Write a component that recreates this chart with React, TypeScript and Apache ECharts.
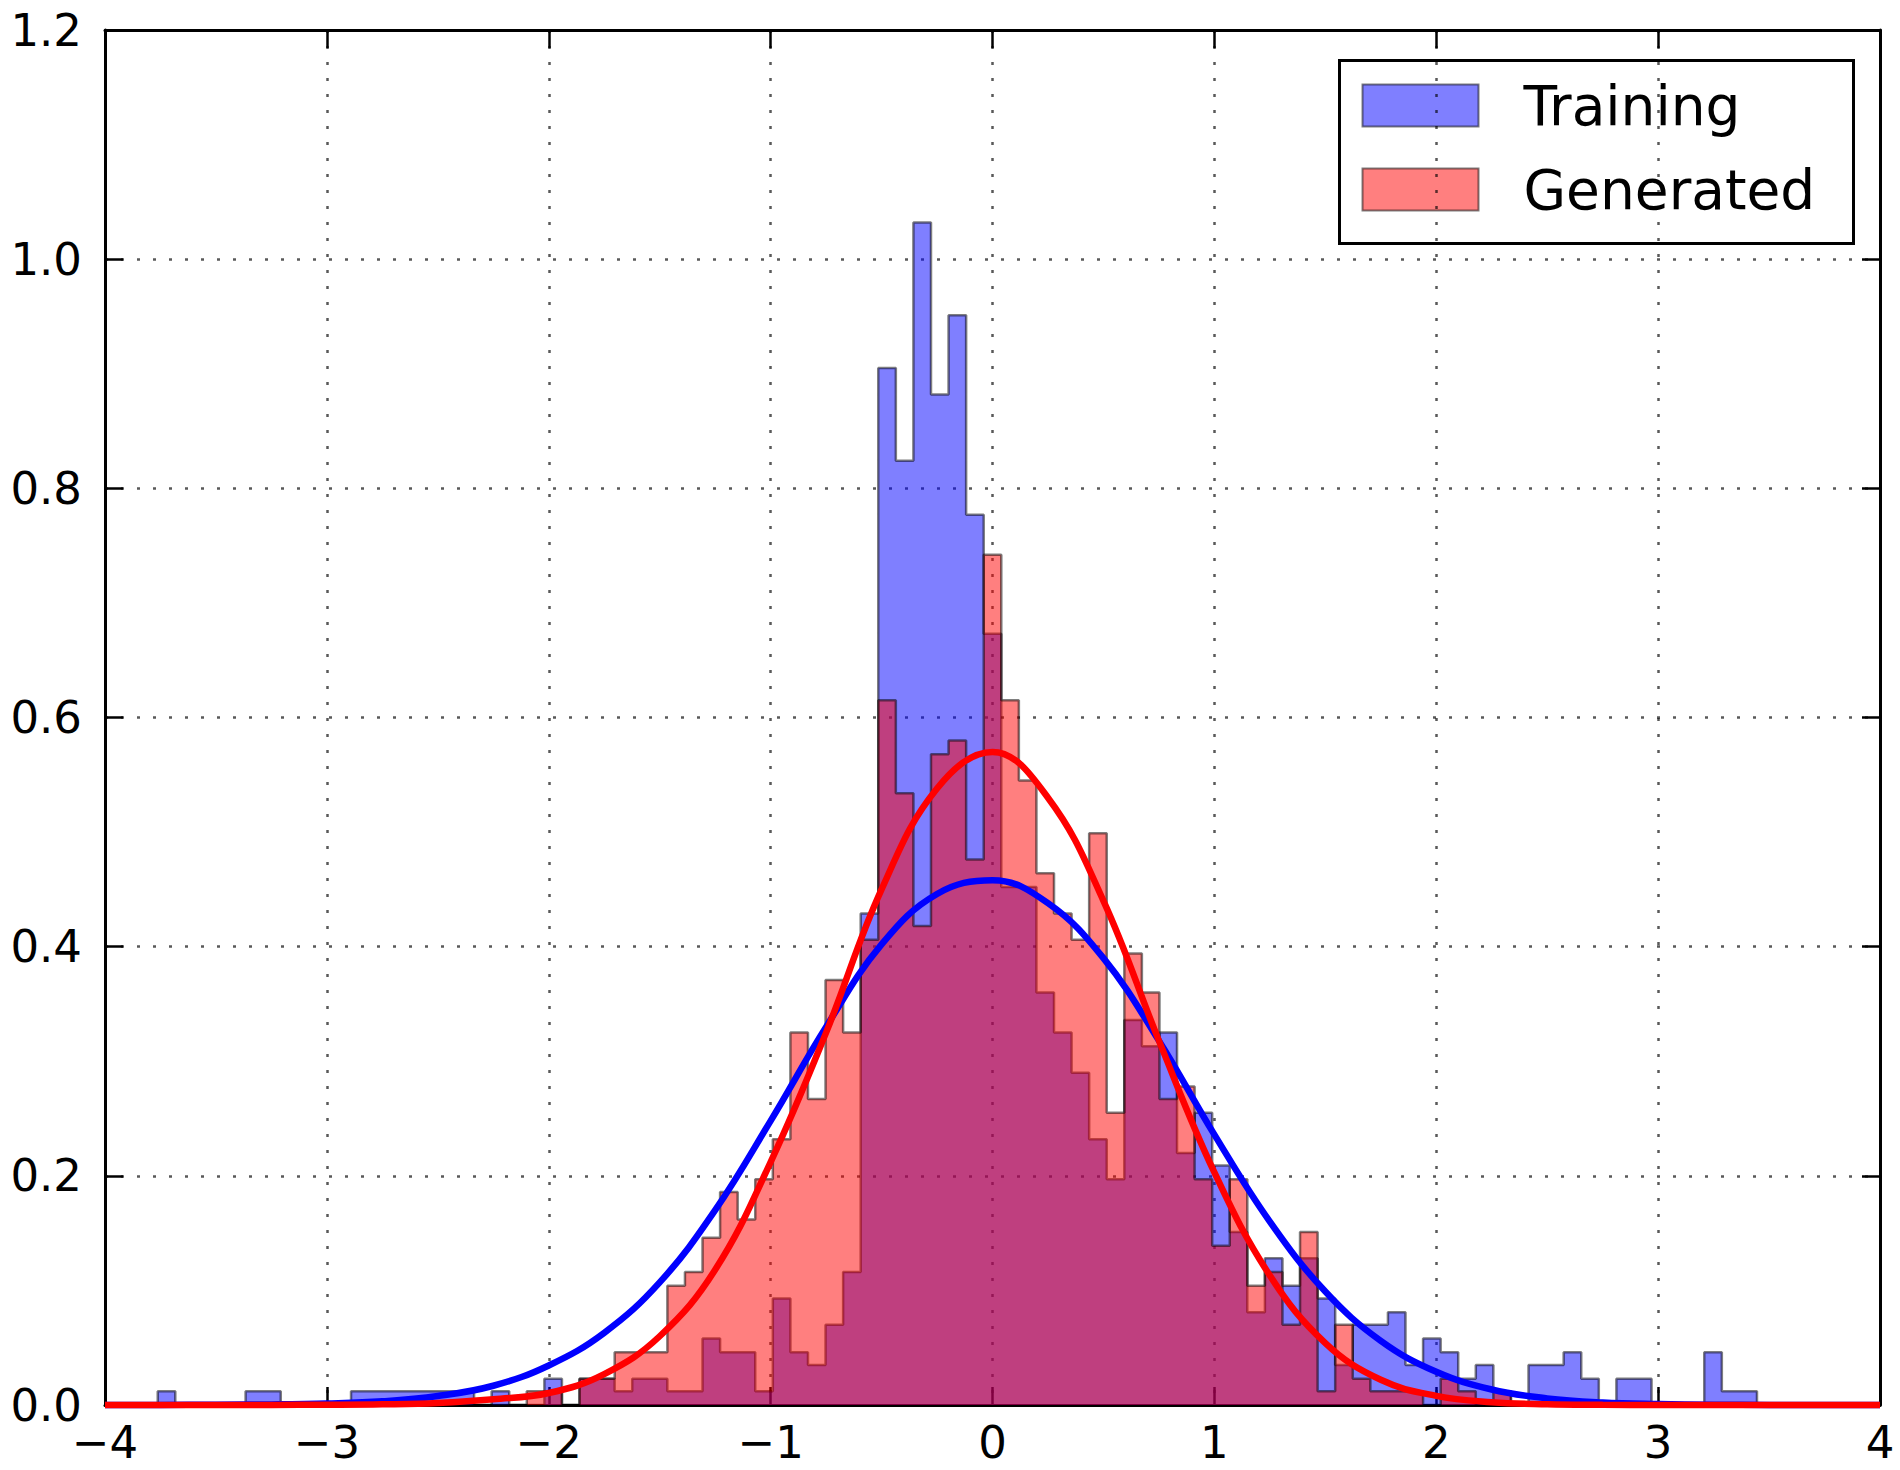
import React, { useEffect, useRef } from "react";
import * as echarts from "echarts";

// ---- data ----
const X_MIN = -4;
const X_MAX = 4;
const BIN_COUNT = 101; // shared bin edges over [-4, 4]

const xTicks = [-4, -3, -2, -1, 0, 1, 2, 3, 4];
const yTicks = [0, 0.2, 0.4, 0.6, 0.8, 1.0, 1.2];

// normalised histogram heights, one per bin (bin 0 starts at -4)
const trainingDensity = [
  0, 0, 0, 0.012, 0, 0, 0, 0, 0.012, 0.012,
  0, 0, 0, 0, 0.012, 0.012, 0.012, 0.012, 0.012, 0.012,
  0.012, 0, 0.012, 0, 0, 0.023, 0, 0.023, 0.023, 0.012,
  0.023, 0.023, 0.012, 0.012, 0.058, 0.046, 0.046, 0.012, 0.093, 0.046,
  0.035, 0.070, 0.116, 0.429, 0.905, 0.824, 1.032, 0.882, 0.951, 0.777,
  0.673, 0.452, 0.452, 0.360, 0.325, 0.290, 0.232, 0.197, 0.336, 0.313,
  0.325, 0.220, 0.255, 0.209, 0.151, 0.081, 0.128, 0.104, 0.128, 0.093,
  0.035, 0.070, 0.070, 0.081, 0.035, 0.058, 0.046, 0.023, 0.035, 0.012,
  0, 0.035, 0.035, 0.046, 0.023, 0, 0.023, 0.023, 0, 0,
  0, 0.046, 0.012, 0.012, 0, 0, 0, 0, 0, 0,
  0,
];

const generatedDensity = [
  0, 0, 0, 0, 0, 0, 0, 0, 0, 0,
  0, 0, 0, 0, 0, 0, 0, 0, 0, 0,
  0, 0, 0, 0, 0.012, 0.012, 0, 0.023, 0.023, 0.046,
  0.046, 0.046, 0.104, 0.116, 0.146, 0.186, 0.162, 0.197, 0.232, 0.325,
  0.267, 0.371, 0.325, 0.406, 0.615, 0.534, 0.418, 0.568, 0.580, 0.476,
  0.742, 0.615, 0.545, 0.464, 0.429, 0.406, 0.499, 0.255, 0.394, 0.360,
  0.267, 0.278, 0.197, 0.139, 0.197, 0.104, 0.116, 0.070, 0.151, 0.012,
  0.070, 0.023, 0.012, 0.012, 0.012, 0, 0.023, 0.012, 0, 0.012,
  0, 0, 0, 0, 0, 0, 0, 0, 0, 0,
  0, 0, 0, 0, 0, 0, 0, 0, 0, 0,
  0,
];

// fitted density curves
const fitX = [
  -4, -3.75, -3.5, -3.25, -3, -2.75, -2.5, -2.25, -2, -1.75, -1.5, -1.25, -1,
  -0.75, -0.5, -0.25, 0, 0.25, 0.5, 0.75, 1, 1.25, 1.5, 1.75, 2, 2.25, 2.5,
  2.75, 3, 3.25, 3.5, 3.75, 4,
];
const trainingFit = [
  0, 0.0001, 0.0003, 0.0005, 0.0013, 0.0032, 0.0078, 0.0168, 0.0345, 0.063,
  0.107, 0.17, 0.248, 0.33, 0.402, 0.446, 0.458, 0.438, 0.39, 0.318, 0.236,
  0.16, 0.099, 0.056, 0.029, 0.0135, 0.0058, 0.0022, 0.0008, 0.0002, 0.0001,
  0, 0,
];
const generatedFit = [
  0, 0, 0, 0.0001, 0.0002, 0.0006, 0.0018, 0.005, 0.0105, 0.027, 0.06, 0.118,
  0.212, 0.325, 0.45, 0.538, 0.57, 0.53, 0.44, 0.318, 0.203, 0.113, 0.054,
  0.022, 0.008, 0.0025, 0.0007, 0.0002, 0, 0, 0, 0, 0,
];

const seriesNames = ["Training", "Generated"];

// ---- helpers ----
const binWidth = (X_MAX - X_MIN) / BIN_COUNT;
function stepPoints(heights: number[]): number[][] {
  const pts = heights.map((h, k) => [X_MIN + k * binWidth, h]);
  pts.push([X_MAX, 0]);
  return pts;
}
const zip = (xs: number[], ys: number[]) => xs.map((x, i) => [x, ys[i]]);

const FONT = "DejaVu Sans";
const TICK_FONT = 45;
const LEGEND_FONT = 55;

const fmtX = (v: number) => (v < 0 ? "\u2212" + Math.abs(v) : String(v));
const fmtY = (v: number) => v.toFixed(1);

export default function App() {
  const ref = useRef<HTMLDivElement>(null);

  useEffect(() => {
    if (!ref.current) return;
    const chart = echarts.init(ref.current, undefined, { renderer: "svg" });

    const axisLine = {
      show: true,
      onZero: false,
      lineStyle: { color: "#000", width: 3 },
    };
    const axisTick = {
      show: true,
      inside: true,
      length: 18,
      lineStyle: { color: "#000", width: 2.5 },
    };
    const gridLine = {
      show: true,
      lineStyle: { color: "rgba(0,0,0,0.65)", width: 2.5, type: [3, 13] },
    };

    const option: any = {
      animation: false,
      backgroundColor: "#fff",
      grid: { left: 105, right: 20, top: 30, bottom: 65 },
      xAxis: [
        {
          type: "value",
          min: X_MIN,
          max: X_MAX,
          interval: 1,
          position: "bottom",
          axisLine,
          axisTick,
          splitLine: gridLine,
          axisLabel: {
            show: true,
            fontSize: TICK_FONT,
            fontFamily: FONT,
            color: "#000",
            margin: 19,
            lineHeight: 36,
            formatter: (v: number) => (xTicks.includes(v) ? fmtX(v) : ""),
          },
        },
        {
          type: "value",
          min: X_MIN,
          max: X_MAX,
          interval: 1,
          position: "top",
          axisLine,
          axisTick,
          splitLine: { show: false },
          axisLabel: { show: false },
        },
      ],
      yAxis: [
        {
          type: "value",
          min: 0,
          max: 1.2,
          interval: 0.2,
          position: "left",
          axisLine,
          axisTick,
          splitLine: gridLine,
          axisLabel: {
            show: true,
            fontSize: TICK_FONT,
            fontFamily: FONT,
            color: "#000",
            margin: 23,
            formatter: (v: number) =>
              yTicks.some((t) => Math.abs(t - v) < 1e-9) ? fmtY(v) : "",
          },
        },
        {
          type: "value",
          min: 0,
          max: 1.2,
          interval: 0.2,
          position: "right",
          axisLine,
          axisTick,
          splitLine: { show: false },
          axisLabel: { show: false },
        },
      ],
      series: [
        {
          name: seriesNames[0],
          type: "line",
          step: "end",
          data: stepPoints(trainingDensity),
          symbol: "none",
          showSymbol: false,
          lineStyle: { color: "rgba(0,0,0,0.5)", width: 2.5 },
          areaStyle: { color: "rgba(0,0,255,0.5)", opacity: 1 },
          z: 2,
        },
        {
          name: seriesNames[1],
          type: "line",
          step: "end",
          data: stepPoints(generatedDensity),
          symbol: "none",
          showSymbol: false,
          lineStyle: { color: "rgba(0,0,0,0.5)", width: 2.5 },
          areaStyle: { color: "rgba(255,0,0,0.5)", opacity: 1 },
          z: 3,
        },
        {
          name: seriesNames[0] + " fit",
          type: "line",
          data: zip(fitX, trainingFit),
          smooth: 0.4,
          symbol: "none",
          showSymbol: false,
          clip: false,
          lineStyle: { color: "#0000ff", width: 6.5 },
          z: 4,
        },
        {
          name: seriesNames[1] + " fit",
          type: "line",
          data: zip(fitX, generatedFit),
          smooth: 0.4,
          symbol: "none",
          showSymbol: false,
          clip: false,
          lineStyle: { color: "#ff0000", width: 6.5 },
          z: 5,
        },
      ],
      graphic: [
        {
          type: "group",
          left: 1338,
          top: 59,
          z: 100,
          children: [
            {
              type: "rect",
              shape: { x: 0, y: 0, width: 514, height: 183 },
              style: { fill: "#fff", stroke: "#000", lineWidth: 3 },
            },
            {
              type: "rect",
              shape: { x: 23, y: 24, width: 116, height: 42 },
              style: {
                fill: "rgba(0,0,255,0.5)",
                stroke: "rgba(0,0,0,0.5)",
                lineWidth: 2,
              },
            },
            {
              type: "rect",
              shape: { x: 23, y: 108, width: 116, height: 42 },
              style: {
                fill: "rgba(255,0,0,0.5)",
                stroke: "rgba(0,0,0,0.5)",
                lineWidth: 2,
              },
            },
            {
              type: "text",
              x: 184,
              y: 45,
              style: {
                text: seriesNames[0],
                fontSize: LEGEND_FONT,
                fontFamily: FONT,
                fill: "#000",
                verticalAlign: "middle",
                align: "left",
              },
            },
            {
              type: "text",
              x: 184,
              y: 129,
              style: {
                text: seriesNames[1],
                fontSize: LEGEND_FONT,
                fontFamily: FONT,
                fill: "#000",
                verticalAlign: "middle",
                align: "left",
              },
            },
          ],
        },
      ],
    };

    chart.setOption(option);
    return () => chart.dispose();
  }, []);

  return (
    <div
      ref={ref}
      style={{ position: "fixed", left: 0, top: 0, width: 1900, height: 1470 }}
    />
  );
}
